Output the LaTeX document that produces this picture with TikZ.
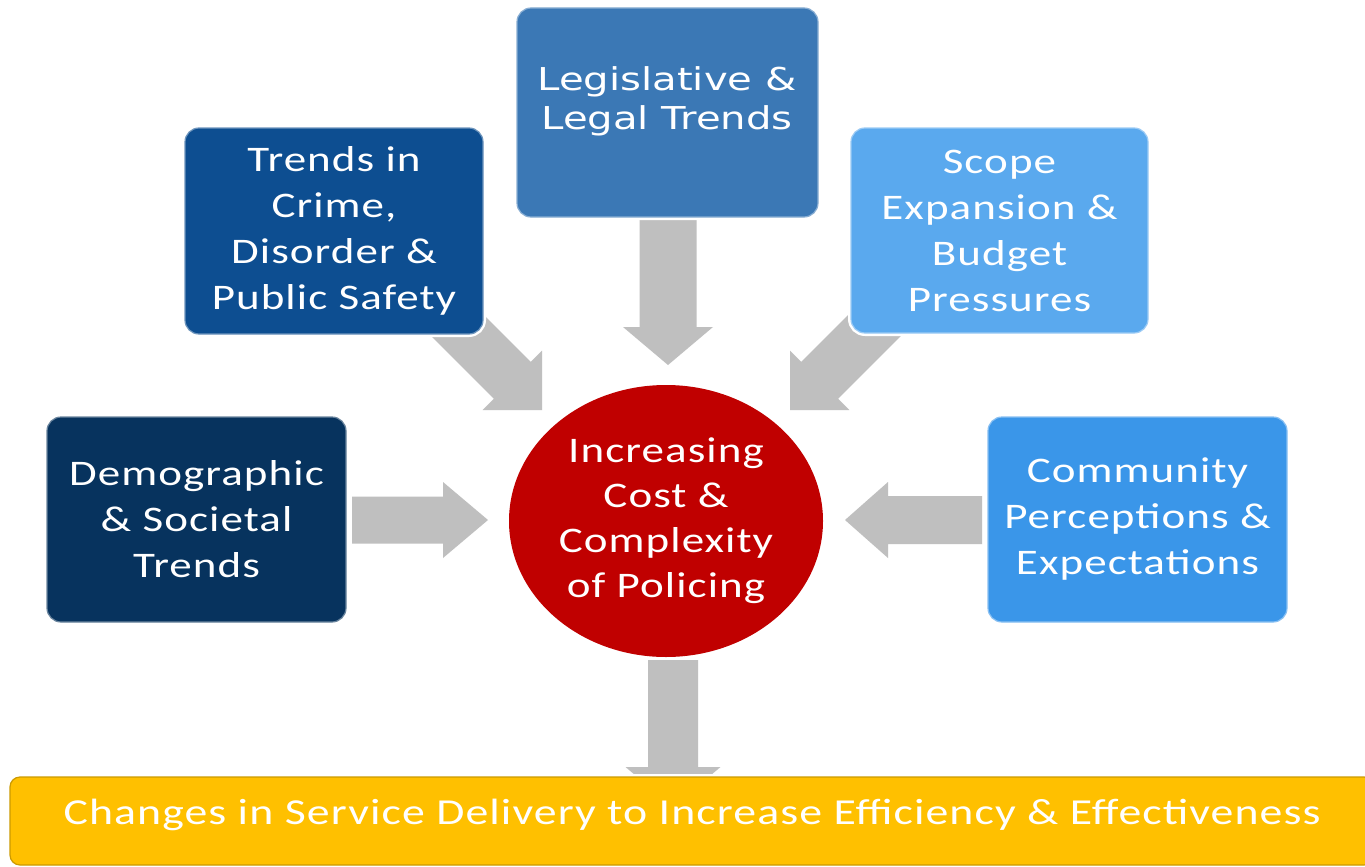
\documentclass[tikz,border=0pt]{standalone}
\usepackage{fontspec}
\usetikzlibrary{shapes.geometric}
\newfontfamily\boxfont[FakeStretch=1.25,LetterSpace=3]{Carlito}
\newfontfamily\legfont[FakeStretch=1.275]{DejaVu Sans}
\definecolor{demoC}{HTML}{07335E}
\definecolor{crimeC}{HTML}{0D4E91}
\definecolor{legC}{HTML}{3B78B5}
\definecolor{scopeC}{HTML}{5AA9EE}
\definecolor{commC}{HTML}{3A96E9}
\definecolor{redC}{HTML}{C00000}
\definecolor{barC}{HTML}{FFC000}
\definecolor{arrowC}{HTML}{BFBFBF}
% #1 name, #2 tip, #3 angle, #4 length, #5 shaft half, #6 head half, #7 head length
\newcommand\blockarrow[7]{%
  \coordinate (#1) at #2;
  \fill[arrowC, shift={#2}, rotate=#3] (0,0) -- (-#7,#6) -- (-#7,#5) -- (-#4,#5)
     -- (-#4,-#5) -- (-#7,-#5) -- (-#7,-#6) -- cycle;}
\begin{document}
\begin{tikzpicture}[x=1pt,y=-1pt,
  box/.style={rounded corners=14pt, text=white, align=center, inner sep=0pt,
    font=\boxfont\fontsize{36}{46}\selectfont,
    preaction={draw=white, line width=6pt}, draw=#1!60!white, line width=1.2pt, fill=#1},
  ]
\useasboundingbox (0,0) rectangle (1365,867);
\clip (0,0) rectangle (1365,867);
\fill[white] (0,0) rectangle (1365,867);
% arrows
\blockarrow{tLeg}{(668,365)}{-90}{145}{28.5}{45}{38}
\blockarrow{tDemo}{(488,520)}{0}{136}{23.5}{38}{45}
\blockarrow{tComm}{(845,520)}{180}{137}{24}{38}{43}
\blockarrow{tCrime}{(542,410)}{-45}{150}{26}{42}{42}
\blockarrow{tScope}{(790,410)}{-135}{150}{26}{42}{42}
\blockarrow{tOut}{(673,807)}{-90}{147}{25}{47.5}{40}
% boxes
\node[box=demoC, minimum width=299pt, minimum height=205pt] (demo) at (196.5,519.5)
  {Demographic\\\& Societal\\Trends};
\node[box=crimeC, minimum width=298pt, minimum height=206pt] (crime) at (334,231)
  {Trends in\\Crime,\\Disorder \&\\Public Safety};
\node[box=legC, minimum width=301pt, minimum height=209pt] (leg) at (667.5,112.5) {};
\node[text=white, align=center, font=\legfont\fontsize{31.5}{39}\selectfont, inner sep=0pt]
  (legtxt) at (667,101) {Legislative \&\\Legal Trends};
\node[box=scopeC, minimum width=297pt, minimum height=205pt] (scope) at (999.5,230.5)
  {Scope\\Expansion \&\\Budget\\Pressures};
\node[box=commC, minimum width=299pt, minimum height=205pt] (comm) at (1137.5,519.5)
  {Community\\Perceptions \&\\Expectations};
% centre
\node[ellipse, fill=redC, minimum width=314pt, minimum height=272pt, inner sep=0pt,
  text=white, align=center, font=\boxfont\fontsize{36}{45}\selectfont] (core) at (666,521)
  {Increasing\\Cost \&\\Complexity\\of Policing};
% bar
\node[box=barC, draw=barC!80!black, minimum width=1364pt, minimum height=88pt, rounded corners=10pt]
  (bar) at (692,821) {};
\node[text=white, inner sep=0pt, font=\boxfont\fontsize{36.6}{44}\selectfont] (bartxt) at (692,815)
  {Changes in Service Delivery to Increase Efficiency \& Effectiveness};
\end{tikzpicture}
\end{document}
